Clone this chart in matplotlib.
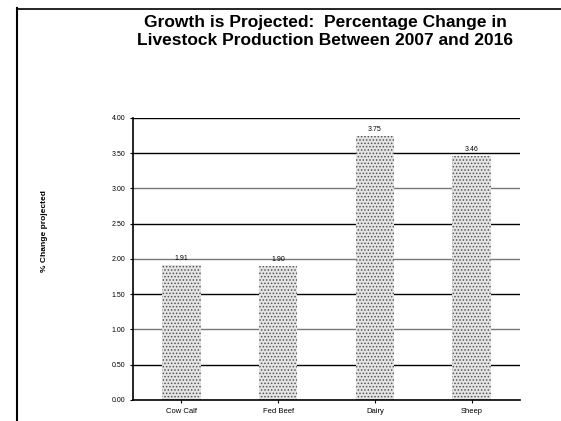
import matplotlib.pyplot as plt
from matplotlib.lines import Line2D
import numpy as np

categories = ["Cow Calf", "Fed Beef", "Dairy", "Sheep"]
values = [1.91, 1.90, 3.75, 3.46]
value_labels = ["1.91", "1.90", "3.75", "3.46"]
yticks = [0.0, 0.5, 1.0, 1.5, 2.0, 2.5, 3.0, 3.5, 4.0]
grid_colors = ['black', '#777777', 'black', '#777777', 'black', '#777777', 'black', 'black']

plt.rcParams['font.family'] = ['Liberation Sans', 'DejaVu Sans']
plt.rcParams['hatch.linewidth'] = 0.7

fig = plt.figure(figsize=(5.61, 4.21), dpi=100)
ax = fig.add_axes([0.237, 0.05, 0.69, 0.67])

x = np.arange(len(categories)) + 0.5
for y, c in zip(yticks[1:], grid_colors):
    ax.axhline(y, color=c, lw=1.0, zorder=1)

bars = ax.bar(x, values, width=0.4, facecolor='#e4e4e4', edgecolor='#555555',
              linewidth=0, hatch='.....', zorder=2)
for xi, v, lab in zip(x, values, value_labels):
    ax.text(xi, v + 0.04, lab, ha='center', va='bottom', fontsize=5, zorder=3)

ax.set_xlim(0, 4)
ax.set_ylim(0, 4)
ax.set_xticks(x)
ax.set_xticklabels(categories, fontsize=5.5)
ax.set_yticks(yticks)
ax.set_yticklabels([f"{t:.2f}" for t in yticks], fontsize=5)
ax.tick_params(axis='both', length=2, width=0.8)
ax.spines['top'].set_visible(False)
ax.spines['right'].set_visible(False)
ax.spines['left'].set_linewidth(1.2)
ax.spines['bottom'].set_linewidth(1.2)

fig.text(0.079, 0.45, "% Change projected", rotation=90, ha='center', va='center',
         fontsize=6, fontweight='bold')
fig.text(0.58, 0.925, "Growth is Projected:  Percentage Change in\nLivestock Production Between 2007 and 2016",
         ha='center', va='center', fontsize=12.5, fontweight='bold', linespacing=1.3)

# scanned page frame
fig.add_artist(Line2D([0.031, 0.031], [0.0, 0.98], color='black', lw=1.5, transform=fig.transFigure))
fig.add_artist(Line2D([0.031, 1.0], [0.978, 0.978], color='black', lw=1.2, transform=fig.transFigure))

fig.savefig("out.png", dpi=100)
